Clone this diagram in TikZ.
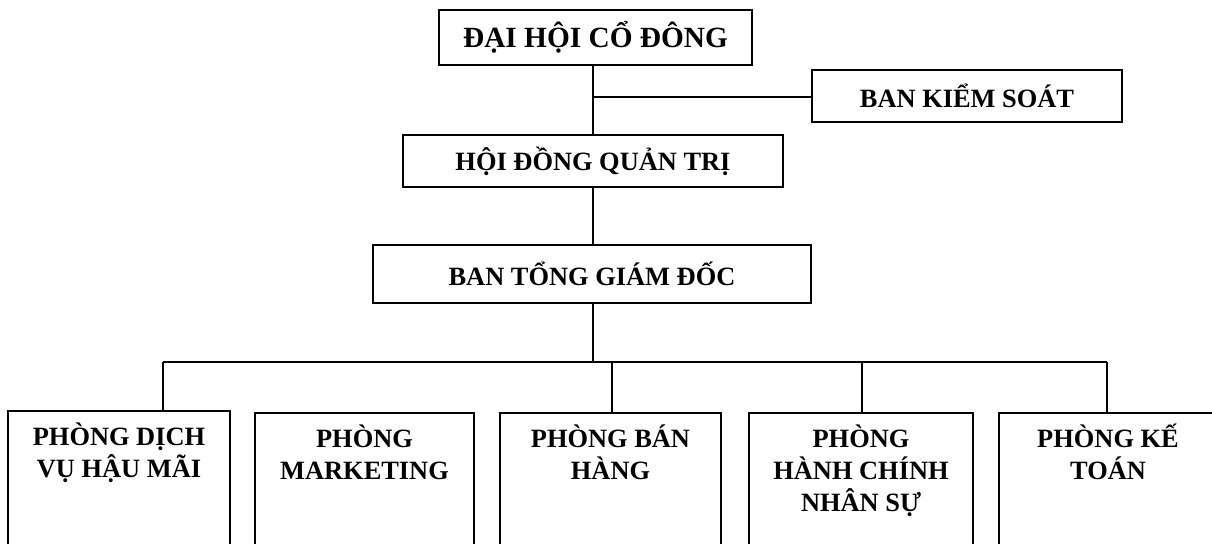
\documentclass[tikz,border=0pt]{standalone}
\usepackage{fontspec}
\setmainfont{Liberation Serif}
\begin{document}
\begin{tikzpicture}[x=0.75pt,y=-0.75pt,
  box/.style={draw, line width=1.3pt, inner sep=0pt, font=\bfseries\fontsize{19.8}{24}\selectfont, align=center},
  bigbox/.style={box, font=\bfseries\fontsize{22}{26}\selectfont},
  dept/.style={box, anchor=north},
  link/.style={line width=1.3pt}
]
\useasboundingbox (0,0) rectangle (1212,543);
\clip (0,0) rectangle (1212,543);
\newcommand{\deptbox}[2]{\parbox[c][150pt][t]{#1}{\centering\rule{0pt}{26.25pt}#2}}
% top boxes
\node[bigbox, minimum width=234.75pt, minimum height=41.25pt] (dh) at (595.5,37.5) {ĐẠI HỘI CỔ ĐÔNG};
\node[box, minimum width=232.5pt, minimum height=39pt] (bks) at (967,96) {BAN KIỂM SOÁT};
\node[box, minimum width=285pt, minimum height=39pt] (hdqt) at (593,161) {HỘI ĐỒNG QUẢN TRỊ};
\node[box, minimum width=328.5pt, minimum height=43.5pt] (btgd) at (592,274) {BAN TỔNG GIÁM ĐỐC};
% departments
\node[dept] (b1) at (119,410) {\deptbox{166.5pt}{PHÒNG DỊCH\\VỤ HẬU MÃI}};
\node[dept] (b2) at (364.5,412) {\deptbox{164.25pt}{PHÒNG\\MARKETING}};
\node[dept] (b3) at (610.5,412) {\deptbox{165.75pt}{PHÒNG BÁN\\HÀNG}};
\node[dept] (b4) at (861,412) {\deptbox{168pt}{PHÒNG\\HÀNH CHÍNH\\NHÂN SỰ}};
\node[dept] (b5) at (1108,412) {\deptbox{163.5pt}{PHÒNG KẾ\\TOÁN}};
% connectors
\coordinate (j1) at (593,97);
\draw[link] (j1 |- dh.south) -- (j1 |- hdqt.north);
\draw[link] (j1) -- (j1 -| bks.west);
\draw[link] (j1 |- hdqt.south) -- (j1 |- btgd.north);
\coordinate (busL) at (163,362);
\coordinate (busR) at (1107,362);
\coordinate (t3) at (612,362);
\coordinate (t4) at (862,362);
\coordinate (tb) at (593,362);
\draw[link] (tb |- btgd.south) -- (tb);
\draw[link] (busL) -- (busR);
\draw[link] (busL) -- (busL |- b1.north);
\draw[link] (t3) -- (t3 |- b3.north);
\draw[link] (t4) -- (t4 |- b4.north);
\draw[link] (busR) -- (busR |- b5.north);
\end{tikzpicture}
\end{document}
